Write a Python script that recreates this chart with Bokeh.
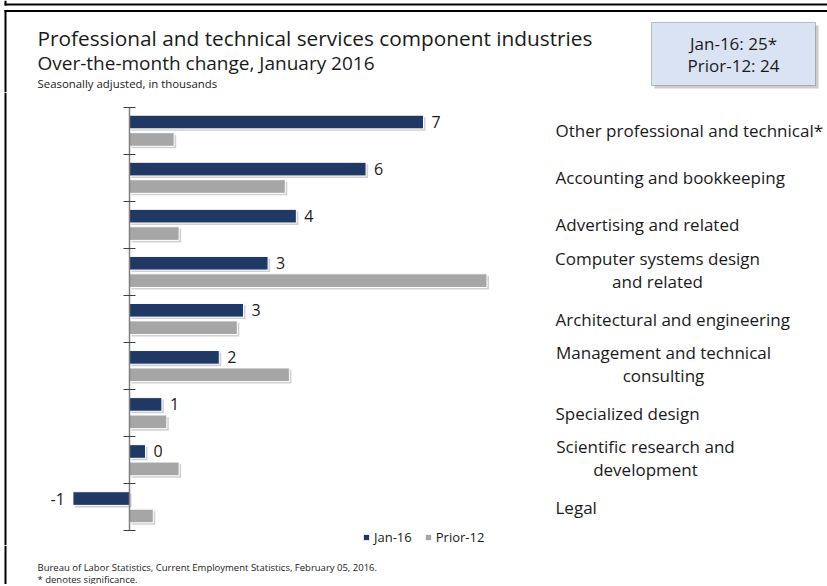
from bokeh.plotting import figure
from bokeh.layouts import column
from bokeh.models import (ColumnDataSource, FactorRange, Range1d, LinearAxis, FixedTicker,
                          CustomJSTickFormatter, Label, BoxAnnotation)
from bokeh.transform import dodge
from bokeh.core.properties import value
from bokeh.embed import file_html
from bokeh.resources import INLINE

# ---------------- data ----------------
categories = [
    "Other professional and technical*",
    "Accounting and bookkeeping",
    "Advertising and related",
    "Computer systems design\nand related",
    "Architectural and engineering",
    "Management and technical\nconsulting",
    "Specialized design",
    "Scientific research and\ndevelopment",
    "Legal",
]
jan16 = [7.17, 5.77, 4.07, 3.38, 2.78, 2.19, 0.79, 0.39, -1.38]
prior12 = [1.09, 3.80, 1.21, 8.72, 2.63, 3.90, 0.91, 1.21, 0.58]
jan16_labels = ["7", "6", "4", "3", "3", "2", "1", "0", "-1"]
series_names = ["Jan-16", "Prior-12"]
summary_values = ["25*", "24"]

title = "Professional and technical services component industries"
subtitle = "Over-the-month change, January 2016"
note = "Seasonally adjusted, in thousands"
source_note = "Bureau of Labor Statistics, Current Employment Statistics, February 05, 2016."
sig_note = "* denotes significance."

# ---------------- style / layout ----------------
FONT = "Open Sans"
NAVY = "#1f3864"
GRAY = "#a6a6a6"
TXT = "#1a1a1a"
W = 827
TOTAL_H = 584
HDR_H = 92
S = 47.03            # px per category
TB = 106.7           # page y of top category boundary
n = len(categories)
PAD = (TB - HDR_H) / S
MAIN_H = round(S * (n + 2 * PAD))
FTR_H = TOTAL_H - HDR_H - MAIN_H
PPU = 41.0           # px per thousand
ZERO = 129           # page x of zero
OFF, BH = 0.185, 0.29
BX0, BX1 = 4, 6      # slide frame left edge


def bare(h, **kw):
    f = figure(width=W, height=h, output_backend="svg", toolbar_location=None,
               x_axis_location=None, y_axis_location=None, title_location=None,
               min_border=0, outline_line_color=None,
               background_fill_color="white", border_fill_color="white", **kw)
    f.xgrid.visible = False
    f.ygrid.visible = False
    return f


def canvas_box(fig, l, r, t, b, **kw):
    fig.add_layout(BoxAnnotation(left=l, right=r, top=t, bottom=b,
                                 left_units="canvas", right_units="canvas",
                                 top_units="canvas", bottom_units="canvas", **kw))


def rule(fig, l, r, t, b):
    canvas_box(fig, l, r, t, b, fill_color="black", fill_alpha=1, line_color=None)


def canvas_text(fig, x, y, s, size, **kw):
    fig.add_layout(Label(x=x, y=y, x_units="canvas", y_units="canvas", text=s,
                         text_font=FONT, text_font_size=size, text_color=TXT,
                         text_baseline="middle", **kw))


# ---------------- header ----------------
hdr = bare(HDR_H, x_range=Range1d(0, W), y_range=Range1d(HDR_H, 0))
rule(hdr, BX0, BX1, 0, 5)
rule(hdr, BX0, W + 5, 3, 5)
rule(hdr, BX0, W + 5, 9.5, 11.5)
rule(hdr, BX0, BX1, 9.5, HDR_H)
canvas_text(hdr, 37, 37, title, "20.8px")
canvas_text(hdr, 37, 62, subtitle, "19px")
canvas_text(hdr, 37, 82.5, note, "11.4px")
canvas_box(hdr, 654, 818, 25, 88, fill_color="#7f7f7f", fill_alpha=0.4, line_color=None)
canvas_box(hdr, 651, 815, 22, 85, fill_color="#dae3f3", fill_alpha=1,
           line_color="#404040", line_width=1)
for i, (nm, v) in enumerate(zip(series_names, summary_values)):
    canvas_text(hdr, 733, 43 + 22 * i, f"{nm}: {v}", "17px", text_align="center")

# ---------------- main chart ----------------
x_range = Range1d(-ZERO / PPU, (W - ZERO) / PPU)
y_range = FactorRange(factors=categories[::-1], range_padding=PAD,
                      range_padding_units="absolute")
p = bare(MAIN_H, x_range=x_range, y_range=y_range)
rule(p, BX0, BX1, 0, MAIN_H)

yax = LinearAxis(ticker=FixedTicker(ticks=list(range(n + 1))),
                 formatter=CustomJSTickFormatter(code="return ''"),
                 fixed_location=0, bounds=(0, n),
                 axis_line_color="#808080", axis_line_width=1.5,
                 major_tick_in=6, major_tick_out=6,
                 major_tick_line_color="#404040", major_tick_line_width=1,
                 minor_tick_line_color=None, major_label_text_font_size="0px",
                 major_label_standoff=0)
p.add_layout(yax, "left")

sh_dx, sh_dy = 2 / PPU, 2 / S
src = ColumnDataSource(dict(
    cat=categories, jan=jan16, prior=prior12, lbl=jan16_labels,
    jan_sh=[v + sh_dx for v in jan16], prior_sh=[v + sh_dx for v in prior12],
    xoff=[8 if v >= 0 else -8 for v in jan16],
    align=["left" if v >= 0 else "right" for v in jan16],
))

# soft shadows
p.hbar(y=dodge("cat", OFF - sh_dy, range=p.y_range), left=sh_dx, right="jan_sh", height=BH,
       fill_color="#9a9a9a", fill_alpha=0.45, line_color=None, source=src)
p.hbar(y=dodge("cat", -OFF - sh_dy, range=p.y_range), left=sh_dx, right="prior_sh", height=BH,
       fill_color="#9a9a9a", fill_alpha=0.45, line_color=None, source=src)

p.hbar(y=dodge("cat", OFF, range=p.y_range), left=0, right="jan", height=BH,
       fill_color=NAVY, line_color="white", line_width=1, source=src,
       legend_label=series_names[0])
p.hbar(y=dodge("cat", -OFF, range=p.y_range), left=0, right="prior", height=BH,
       fill_color=GRAY, line_color="white", line_width=1, source=src,
       legend_label=series_names[1])

p.text(x="jan", y=dodge("cat", OFF, range=p.y_range), text="lbl",
       x_offset="xoff", text_align="align", text_baseline="middle",
       text_font=value(FONT), text_font_size="16px", text_color=TXT, source=src)

# category names on the right
centers = {"Computer systems design\nand related": 102,
           "Management and technical\nconsulting": 108,
           "Scientific research and\ndevelopment": 90}
lab_src = ColumnDataSource(dict(
    cat=categories,
    xoff=[centers.get(c, 0) for c in categories],
    yoff=[-2 if c in centers else 0 for c in categories],
    align=["center" if c in centers else "left" for c in categories],
))
LABX = (555 - ZERO) / PPU
p.text(x=LABX, y="cat", text="cat", x_offset="xoff", y_offset="yoff", text_align="align",
       text_baseline="middle", text_line_height=1.02,
       text_font=value(FONT), text_font_size="17px", text_color=TXT, source=lab_src)

# legend
leg = p.legend[0]
leg.orientation = "horizontal"
leg.location = (362, HDR_H + MAIN_H - 538 - 8)
leg.border_line_color = None
leg.background_fill_alpha = 0
leg.padding = 0
leg.margin = 0
leg.spacing = 12
leg.glyph_width = 8
leg.glyph_height = 8
leg.label_standoff = 4
leg.label_height = 13
leg.label_text_font = FONT
leg.label_text_font_size = "13px"
leg.label_text_color = TXT

# ---------------- footer ----------------
ftr = bare(FTR_H, x_range=Range1d(0, W), y_range=Range1d(FTR_H, 0))
rule(ftr, BX0, BX1, 0, FTR_H)
y0 = HDR_H + MAIN_H
canvas_text(ftr, 37, 566.5 - y0, source_note, "9.5px")
canvas_text(ftr, 37, 578.5 - y0, sig_note, "9.5px")

layout = column(hdr, p, ftr, spacing=0, styles={"overflow": "hidden"})
open("out.html", "w").write(file_html(layout, INLINE))
